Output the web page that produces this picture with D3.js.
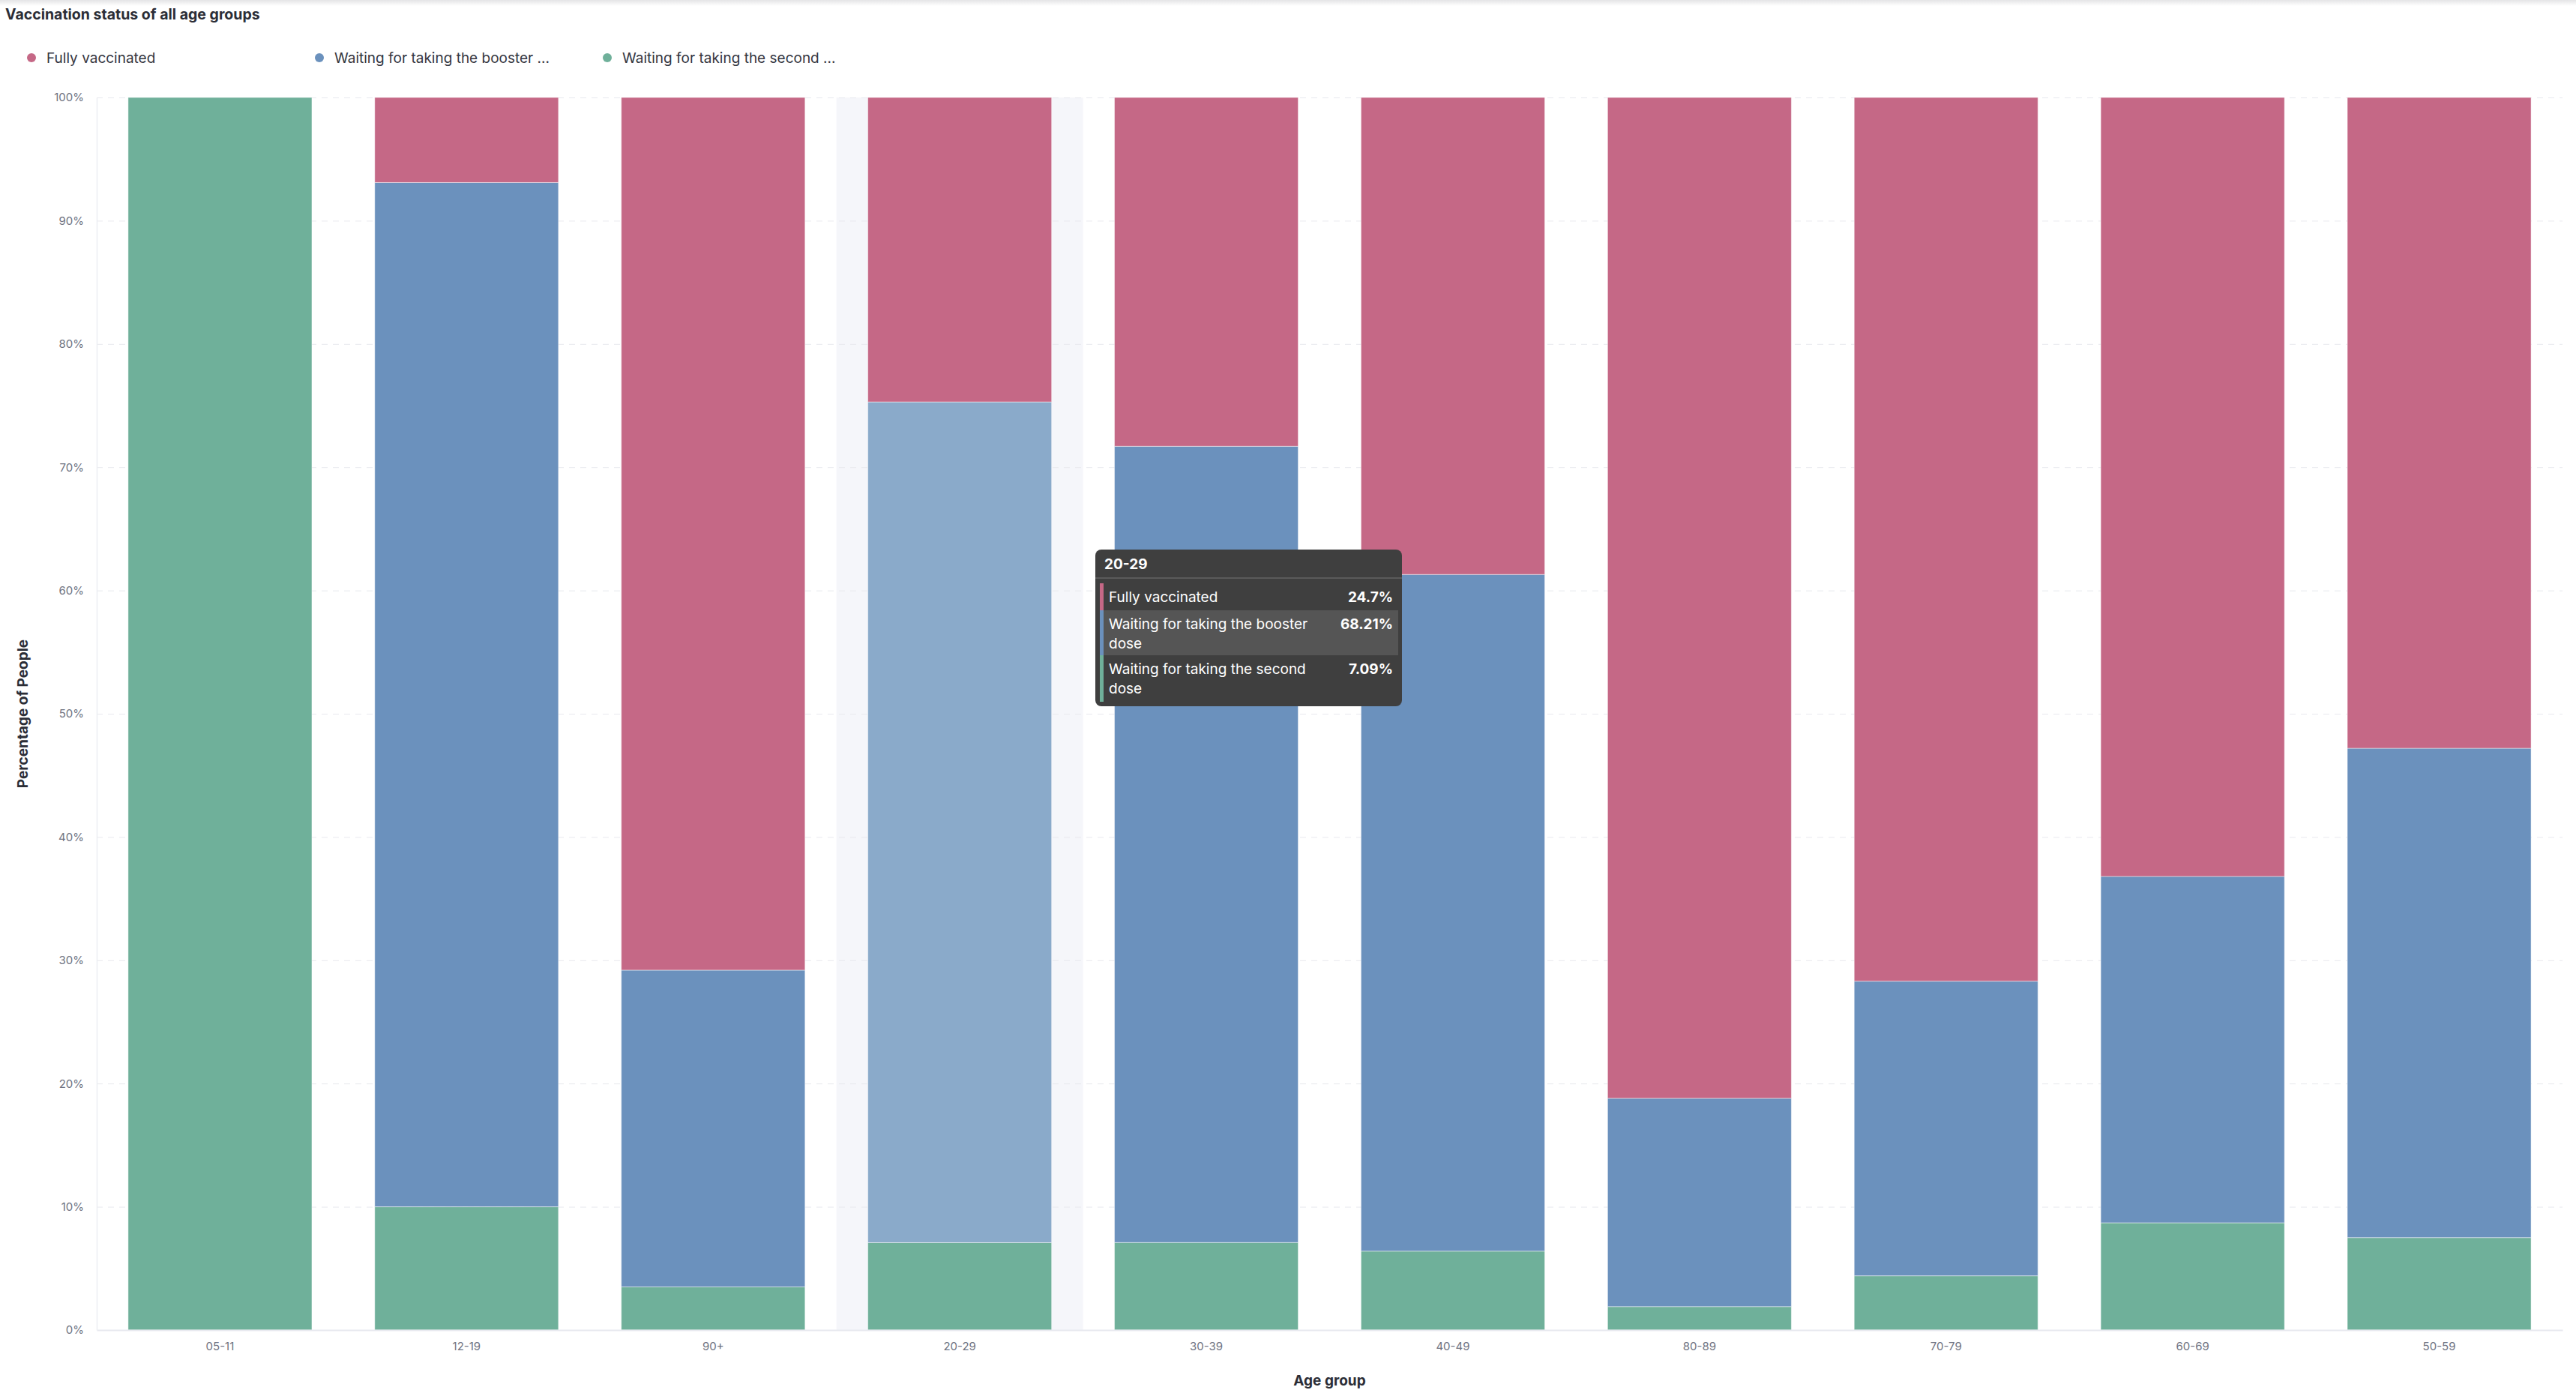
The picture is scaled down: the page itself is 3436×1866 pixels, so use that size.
<!DOCTYPE html>
<html>
<head>
<meta charset="utf-8">
<script src="https://cdn.jsdelivr.net/npm/d3@7"></script>
<style>
  body { margin: 0; background: #fff; font-family: Inter, "Noto Sans", sans-serif; }
  .grid line { stroke: #e8e9ee; stroke-dasharray: 8 7; }
  .tick text { fill: #6e7281; font-size: 15px; font-family: Inter, sans-serif; }
</style>
</head>
<body>
<div class="chart"></div>
<script>
var svgWidth = 3436;
var svgHeight = 1866;

var margin = { top: 130, right: 18, bottom: 92, left: 129 };
var width = svgWidth - margin.left - margin.right;
var height = svgHeight - margin.top - margin.bottom;

// Data (percent of people per age group)
var ageGroups = ["05-11", "12-19", "90+", "20-29", "30-39", "40-49", "80-89", "70-79", "60-69", "50-59"];
var seriesNames = ["Fully vaccinated", "Waiting for taking the booster dose", "Waiting for taking the second dose"];
var legendLabels = ["Fully vaccinated", "Waiting for taking the booster ...", "Waiting for taking the second ..."];
var fullyVaccinated = [0, 6.9, 70.8, 24.7, 28.3, 38.7, 81.2, 71.7, 63.2, 52.8];
var waitingBooster = [0, 83.1, 25.7, 68.21, 64.6, 54.9, 16.9, 23.9, 28.1, 39.7];
var waitingSecond = [100, 10.0, 3.5, 7.09, 7.1, 6.4, 1.9, 4.4, 8.7, 7.5];
var yTicks = [0, 10, 20, 30, 40, 50, 60, 70, 80, 90, 100];
var colors = ["#c56886", "#6b91bd", "#6fb09a"];
var hoverBlue = "#8aaaca";
var hoverGroup = "20-29";

var rows = ageGroups.map(function(g, i) {
  return { group: g, full: fullyVaccinated[i], booster: waitingBooster[i], second: waitingSecond[i] };
});

var svg = d3.select(".chart")
  .append("svg")
  .attr("width", svgWidth)
  .attr("height", svgHeight);

// faint shadow along the top edge
var defs = svg.append("defs");
var grad = defs.append("linearGradient").attr("id", "topShade").attr("x1", 0).attr("y1", 0).attr("x2", 0).attr("y2", 1);
grad.append("stop").attr("offset", "0%").attr("stop-color", "#e4e4e6");
grad.append("stop").attr("offset", "100%").attr("stop-color", "#ffffff");
svg.append("rect").attr("width", svgWidth).attr("height", 8).attr("fill", "url(#topShade)");

// Title
svg.append("text")
  .attr("x", 7)
  .attr("y", 26)
  .attr("font-size", "19.5px")
  .attr("font-weight", 700)
  .attr("fill", "#2b2d36")
  .text("Vaccination status of all age groups");

// Legend
var legend = svg.append("g").attr("transform", "translate(42, 77)");
legendLabels.forEach(function(label, i) {
  var item = legend.append("g").attr("transform", `translate(${i * 384}, 0)`);
  item.append("circle").attr("r", 6).attr("fill", colors[i]);
  item.append("text")
    .attr("x", 20)
    .attr("y", 0)
    .attr("dy", "0.35em")
    .attr("font-size", "19px")
    .attr("fill", "#34363f")
    .text(label);
});

var chartGroup = svg.append("g")
  .attr("transform", `translate(${margin.left}, ${margin.top})`);

// Scales
var xBandScale = d3.scaleBand()
  .domain(ageGroups)
  .range([0, width])
  .paddingInner(0.255)
  .paddingOuter(0.1275);

var yLinearScale = d3.scaleLinear()
  .domain([0, 100])
  .range([height, 0]);

// Hover band behind 20-29
chartGroup.append("rect")
  .attr("x", xBandScale(hoverGroup) - xBandScale.step() * xBandScale.paddingInner() / 2)
  .attr("y", 0)
  .attr("width", xBandScale.step())
  .attr("height", height)
  .attr("fill", "#f5f6fa");

// Gridlines
chartGroup.append("g")
  .attr("class", "grid")
  .call(d3.axisLeft(yLinearScale).tickValues(yTicks.slice(1)).tickSize(-width).tickFormat(""))
  .call(g => g.select(".domain").remove());

// Stacked bars
var stack = d3.stack().keys(["second", "booster", "full"]);
var stacked = stack(rows);
var keyColor = { second: colors[2], booster: colors[1], full: colors[0] };

chartGroup.selectAll("g.layer")
  .data(stacked)
  .enter()
  .append("g")
  .attr("class", "layer")
  .each(function(layer) {
    d3.select(this).selectAll("rect")
      .data(layer.filter(d => d[1] - d[0] > 0))
      .enter()
      .append("rect")
      .attr("x", d => xBandScale(d.data.group))
      .attr("y", d => yLinearScale(d[1]))
      .attr("width", xBandScale.bandwidth())
      .attr("height", d => yLinearScale(d[0]) - yLinearScale(d[1]))
      .attr("fill", d => (layer.key === "booster" && d.data.group === hoverGroup) ? hoverBlue : keyColor[layer.key])
      .attr("stroke", "#ffffff")
      .attr("stroke-opacity", 0.45)
      .attr("stroke-width", 1);
  });

// Axes
var bottomAxis = d3.axisBottom(xBandScale).tickSize(0).tickPadding(16);
var leftAxis = d3.axisLeft(yLinearScale).tickValues(yTicks).tickSize(0).tickPadding(17).tickFormat(d => d + "%");

chartGroup.append("g")
  .attr("transform", `translate(0, ${height})`)
  .call(bottomAxis)
  .call(g => g.select(".domain").attr("stroke", "#e8e9ef").attr("stroke-width", 2));

chartGroup.append("g")
  .call(leftAxis)
  .call(g => g.select(".domain").attr("stroke", "#eceef2").attr("stroke-width", 1.5));

chartGroup.selectAll(".tick text").attr("fill", "#6e7281").attr("font-size", "15.5px");

// Axis titles
chartGroup.append("text")
  .attr("transform", "rotate(-90)")
  .attr("x", -height / 2)
  .attr("y", -margin.left + 30)
  .attr("dy", "0.35em")
  .attr("text-anchor", "middle")
  .attr("font-size", "19px")
  .attr("font-weight", 700)
  .attr("fill", "#2b2d36")
  .text("Percentage of People");

chartGroup.append("text")
  .attr("x", width / 2)
  .attr("y", height + 74)
  .attr("text-anchor", "middle")
  .attr("font-size", "19px")
  .attr("font-weight", 700)
  .attr("fill", "#2b2d36")
  .text("Age group");

// Tooltip for 20-29
var hoverIndex = ageGroups.indexOf(hoverGroup);
var tipValues = [fullyVaccinated[hoverIndex], waitingBooster[hoverIndex], waitingSecond[hoverIndex]];
var tipLines = [["Fully vaccinated"], ["Waiting for taking the booster", "dose"], ["Waiting for taking the second", "dose"]];

var tip = svg.append("g").attr("transform", "translate(1461, 733)");
tip.append("rect")
  .attr("width", 409)
  .attr("height", 209)
  .attr("rx", 8)
  .attr("fill", "#3f3f3f");
tip.append("text")
  .attr("x", 12)
  .attr("y", 19)
  .attr("dy", "0.35em")
  .attr("font-size", "19px")
  .attr("font-weight", 700)
  .attr("fill", "#ffffff")
  .text(hoverGroup);
tip.append("line")
  .attr("x1", 0).attr("x2", 409)
  .attr("y1", 38).attr("y2", 38)
  .attr("stroke", "#5a5a5a")
  .attr("stroke-width", 2);

var rowTops = [45, 81, 141];
var rowHeights = [36, 60, 62];
tipLines.forEach(function(lines, i) {
  var row = tip.append("g").attr("transform", `translate(0, ${rowTops[i]})`);
  if (i === 1) {
    row.append("rect").attr("x", 6).attr("width", 398).attr("height", rowHeights[i]).attr("fill", "#555555");
  }
  row.append("rect").attr("x", 6).attr("width", 5).attr("height", rowHeights[i]).attr("fill", colors[i]);
  lines.forEach(function(line, j) {
    row.append("text")
      .attr("x", 18)
      .attr("y", 18 + j * 26)
      .attr("dy", "0.35em")
      .attr("font-size", "19px")
      .attr("fill", "#ffffff")
      .text(line);
  });
  row.append("text")
    .attr("x", 397)
    .attr("y", 18)
    .attr("dy", "0.35em")
    .attr("text-anchor", "end")
    .attr("font-size", "19px")
    .attr("font-weight", 700)
    .attr("fill", "#ffffff")
    .text(tipValues[i] + "%");
});
</script>
</body>
</html>
